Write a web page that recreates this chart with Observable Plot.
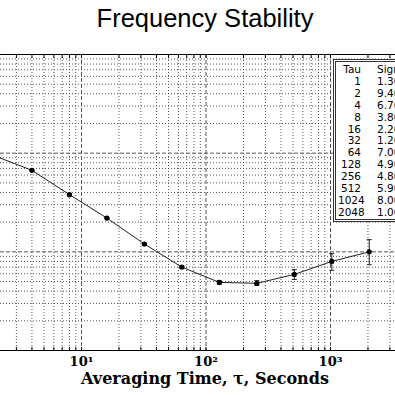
<!DOCTYPE html>
<html>
<head>
<meta charset="utf-8">
<script src="https://cdn.jsdelivr.net/npm/d3@7"></script>
<script src="https://cdn.jsdelivr.net/npm/@observablehq/plot@0.6"></script>
<style>
  html, body { margin: 0; padding: 0; background: #fff; overflow: hidden; width: 395px; height: 395px; }
  #wrap { position: relative; width: 395px; height: 395px; overflow: hidden; }
  #title { height: 40px; box-sizing: border-box; padding-left: 15px; text-align: center;
           font-family: "Liberation Sans", Arial, sans-serif; font-size: 25.5px; line-height: 36px; color: #000; }
  #xlabel { position: absolute; left: 0; width: 410px; top: 373px; text-align: center;
            font-family: "DejaVu Serif", serif; font-weight: bold; font-size: 16px; line-height: 12px; color: #000; }
  #legend { position: absolute; left: 333px; top: 59px; width: 120px; background: #fff;
            border: 3px double #333; padding: 2px 0 0 2px; font-family: "DejaVu Sans", sans-serif;
            font-size: 10.5px; line-height: 11.9px; color: #000; white-space: nowrap; }
  #legend .c1 { display: inline-block; width: 23px; text-align: right; }
  #legend .c2 { display: inline-block; margin-left: 16px; }
</style>
</head>
<body>
<div id="wrap">
  <div id="title">Frequency Stability</div>
  <div id="chart"></div>
  <div id="xlabel">Averaging Time, τ, Seconds</div>
  <div id="legend"></div>
</div>
<script>
const tau = [1, 2, 4, 8, 16, 32, 64, 128, 256, 512, 1024, 2048];
const sigma = [1.3e-10, 9.4e-11, 6.7e-11, 3.8e-11, 2.2e-11, 1.2e-11, 7.0e-12, 4.9e-12, 4.8e-12, 5.9e-12, 8.0e-12, 1.0e-11];
const sigmaLow = [1.29e-10, 9.3e-11, 6.6e-11, 3.75e-11, 2.17e-11, 1.18e-11, 6.8e-12, 4.7e-12, 4.55e-12, 5.25e-12, 6.5e-12, 7.4e-12];
const sigmaHigh = [1.31e-10, 9.5e-11, 6.8e-11, 3.85e-11, 2.23e-11, 1.22e-11, 7.2e-12, 5.1e-12, 5.1e-12, 6.6e-12, 9.6e-12, 1.33e-11];
const sigmaText = ["1.30e-10", "9.40e-11", "6.70e-11", "3.80e-11", "2.20e-11", "1.20e-11", "7.00e-12", "4.90e-12", "4.80e-12", "5.90e-12", "8.00e-12", "1.00e-11"];

// Axis ticks
const xDecades = [1, 10, 100, 1000];
const xTickValues = [10, 100, 1000];
const xTickLabels = ["10¹", "10²", "10³"];
const yDecades = [1e-12, 1e-11, 1e-10];
const yMajorInner = [1e-11, 1e-10];
const yFrame = [1e-12, 1e-9];
const minorSteps = [2, 3, 4, 5, 6, 7, 8, 9];

const xDomain = [2.236, 3327];
const yDomain = [1e-12, 1e-9];

const xMinor = xDecades.flatMap(d => minorSteps.map(m => d * m)).filter(v => v > xDomain[0] && v < xDomain[1]);
const yMinor = yDecades.flatMap(d => minorSteps.map(m => d * m));
const xMajor = xDecades.filter(v => v > xDomain[0] && v < xDomain[1]);

const rows = tau.map((t, i) => ({tau: t, sigma: sigma[i], lo: sigmaLow[i], hi: sigmaHigh[i]}));
const caps = rows.flatMap(r => [{tau: r.tau, v: r.lo}, {tau: r.tau, v: r.hi}]);

const capSymbol = {
  draw(ctx, size) {
    const r = Math.sqrt(size / Math.PI);
    ctx.moveTo(-r, 0);
    ctx.lineTo(r, 0);
  }
};

const chart = Plot.plot({
  width: 395,
  height: 345,
  marginLeft: 0,
  marginRight: 0,
  marginTop: 14,
  marginBottom: 35,
  style: {background: "transparent", overflow: "hidden"},
  x: {type: "log", domain: xDomain},
  y: {type: "log", domain: yDomain, axis: null},
  marks: [
    Plot.ruleX(xMinor, {stroke: "#555", strokeWidth: 1, strokeDasharray: "1,2"}),
    Plot.ruleY(yMinor, {stroke: "#555", strokeWidth: 1, strokeDasharray: "1,2"}),
    Plot.ruleX(xMajor, {stroke: "#555", strokeWidth: 1, strokeDasharray: "4,2"}),
    Plot.ruleY(yMajorInner, {stroke: "#555", strokeWidth: 1, strokeDasharray: "4,2"}),
    Plot.ruleY(yFrame, {stroke: "#000", strokeWidth: 1}),
    Plot.axisX({anchor: "top", ticks: xMinor.concat(xMajor), tickSize: -3, tickFormat: () => "", stroke: "#000", label: null}),
    Plot.axisX({anchor: "bottom", ticks: xMinor.concat(xMajor), tickSize: -3, tickFormat: () => "", stroke: "#000", label: null}),
    Plot.axisX({
      anchor: "bottom", ticks: xTickValues, tickSize: 0, tickPadding: 6,
      tickFormat: d => xTickLabels[xTickValues.indexOf(d)],
      fontFamily: "DejaVu Serif", fontSize: 13, fontWeight: "bold", fill: "#000", label: null
    }),
    Plot.line(rows, {x: "tau", y: "sigma", stroke: "#222", strokeWidth: 1, clip: true}),
    Plot.ruleX(rows, {x: "tau", y1: "lo", y2: "hi", stroke: "#222", strokeWidth: 1, clip: true}),
    Plot.dot(caps, {x: "tau", y: "v", symbol: capSymbol, r: 2.5, stroke: "#222", strokeWidth: 1, fill: "none", clip: true}),
    Plot.dot(rows, {x: "tau", y: "sigma", r: 2.6, fill: "#000", stroke: "none", clip: true})
  ]
});
document.getElementById("chart").appendChild(chart);

// Legend table
const legend = document.getElementById("legend");
const head = document.createElement("div");
head.innerHTML = '<span class="c1">Tau</span><span class="c2">Sigma</span>';
legend.appendChild(head);
tau.forEach((t, i) => {
  const row = document.createElement("div");
  row.innerHTML = `<span class="c1">${t}</span><span class="c2">${sigmaText[i]}</span>`;
  legend.appendChild(row);
});
</script>
</body>
</html>
